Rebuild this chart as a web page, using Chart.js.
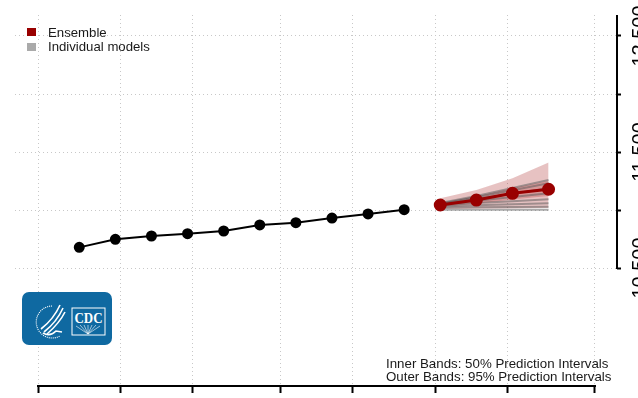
<!DOCTYPE html>
<html>
<head>
<meta charset="utf-8">
<script src="https://cdn.jsdelivr.net/npm/chart.js@4.4.1/dist/chart.umd.min.js"></script>
<style>
  body { margin: 0; background: #fff; }
  #wrap { position: relative; width: 638px; height: 398px; overflow: hidden; font-family: "Liberation Sans", Arial, sans-serif; }
  #chart { position: absolute; left: 0; top: 0; }
  .legend { position: absolute; left: 27px; top: 25px; font-size: 13.2px; color: #1a1a1a; }
  .legend .row { display: flex; align-items: center; height: 14.5px; white-space: nowrap; }
  .legend .sw { width: 9px; height: 8px; margin-right: 12px; }
  .notes { position: absolute; left: 386px; top: 357px; font-size: 13.3px; line-height: 13px; color: #1a1a1a; white-space: nowrap; }
  .logo { position: absolute; left: 22px; top: 292px; width: 90px; height: 53px; background: #0f69a1; border-radius: 7px; }
</style>
</head>
<body>
<div id="wrap">
  <canvas id="chart" width="638" height="398"></canvas>
  <div class="legend" id="legend"></div>
  <div class="notes" id="notes"></div>
  <div class="logo">
    <svg width="90" height="53" viewBox="0 0 90 53">
      <path d="M30 14 A16 16 0 1 0 38 44" fill="none" stroke="#fff" stroke-width="1.2" stroke-dasharray="1 1"/>
      <path d="M38 13 C34 22 28 30 19 37" fill="none" stroke="#fff" stroke-width="1.6"/>
      <path d="M41 16 C37 25 31 33 22 40" fill="none" stroke="#fff" stroke-width="1.6"/>
      <path d="M43 20 C39 28 33 35 25 42" fill="none" stroke="#fff" stroke-width="1.6"/>
      <path d="M21 41 C26 44 31 42 34 39 L40 40" fill="none" stroke="#fff" stroke-width="1.6"/>
      <rect x="50" y="16" width="33" height="27" fill="none" stroke="#fff" stroke-width="1"/>
      <text x="66.5" y="30.5" text-anchor="middle" font-family="Liberation Serif, serif" font-weight="bold" font-size="15" textLength="28" lengthAdjust="spacingAndGlyphs" fill="#fff">CDC</text>
      <path d="M66 42 L54 34 M66 42 L58 33 M66 42 L62 33 M66 42 L66 33 M66 42 L70 33 M66 42 L74 33 M66 42 L78 34" stroke="#fff" stroke-width="0.6"/>
    </svg>
  </div>
</div>
<script>
// x values are days counted from the first date tick
const xTickDays = [0, 16, 30, 47, 61, 77, 91, 108];
const yTickValues = [10500, 11000, 11500, 12000, 12500];
const yLabelValues = [10500, 11500, 12500];

const observedDays = [8, 15, 22, 29, 36, 43, 50, 57, 64, 71];
const observed = [10678, 10747, 10776, 10796, 10819, 10871, 10891, 10931, 10966, 11003];

const forecastDays = [78, 85, 92, 99];
const ensemble = [11043, 11086, 11144, 11179];
const lower95 = [11008, 11011, 11014, 11017];
const upper95 = [11101, 11172, 11273, 11409];
const lower50 = [11028, 11055, 11090, 11120];
const upper50 = [11062, 11118, 11190, 11250];

// individual model forecasts
const model1 = [11060, 11120, 11190, 11259];
const model2 = [11055, 11110, 11170, 11230];
const model3 = [11050, 11095, 11140, 11187];
const model4 = [11045, 11080, 11112, 11144];
const model5 = [11040, 11060, 11076, 11092];
const model6 = [11030, 11040, 11050, 11058];
const model7 = [11020, 11024, 11027, 11029];
const model8 = [11003, 11003, 11003, 11003];
const models = [model1, model2, model3, model4, model5, model6, model7, model8];

const legendLabels = ["Ensemble", "Individual models"];
const legendColors = ["#990000", "#aaaaaa"];
const noteLines = ["Inner Bands: 50% Prediction Intervals", "Outer Bands: 95% Prediction Intervals"];

const fontFamily = "'Liberation Sans', Arial, sans-serif";

function toPoints(days, values) {
  return days.map((d, i) => ({ x: d, y: values[i] }));
}

// legend + notes
const legendBox = document.getElementById("legend");
legendLabels.forEach((label, i) => {
  const row = document.createElement("div");
  row.className = "row";
  const sw = document.createElement("span");
  sw.className = "sw";
  sw.style.background = legendColors[i];
  row.appendChild(sw);
  row.appendChild(document.createTextNode(label));
  legendBox.appendChild(row);
});
document.getElementById("notes").innerHTML = noteLines.join("<br>");

const modelDatasets = models.map((m) => ({
  data: toPoints(forecastDays, m),
  borderColor: "rgba(85, 85, 85, 0.5)",
  borderWidth: 2,
  pointRadius: 0,
  order: 2,
}));

// draws the R-style axis lines (only between first and last tick)
const axisLines = {
  id: "axisLines",
  afterDraw(chart) {
    const { ctx, chartArea, scales } = chart;
    ctx.save();
    ctx.strokeStyle = "#000";
    ctx.lineWidth = 2;
    ctx.beginPath();
    ctx.moveTo(scales.x.getPixelForValue(xTickDays[0]) - 1, chartArea.bottom);
    ctx.lineTo(scales.x.getPixelForValue(xTickDays[xTickDays.length - 1]) + 1, chartArea.bottom);
    ctx.moveTo(chartArea.right, chartArea.top);
    ctx.lineTo(chartArea.right, scales.y.getPixelForValue(yTickValues[0]) + 1);
    ctx.stroke();
    ctx.restore();
  },
};

const ctx = document.getElementById("chart").getContext("2d");
const chart = new Chart(ctx, {
  type: "line",
  data: {
    datasets: [
      {
        label: "Observed",
        data: toPoints(observedDays, observed),
        borderColor: "#000",
        backgroundColor: "#000",
        borderWidth: 2,
        pointRadius: 4.5,
        pointBackgroundColor: "#000",
        pointBorderColor: "#000",
        order: 0,
      },
      {
        label: "Ensemble",
        data: toPoints(forecastDays, ensemble),
        borderColor: "#990000",
        borderWidth: 3,
        pointRadius: 5,
        pointBackgroundColor: "#990000",
        pointBorderColor: "#990000",
        order: 1,
      },
      ...modelDatasets,
      {
        label: "upper50",
        data: toPoints(forecastDays, upper50),
        borderWidth: 0,
        pointRadius: 0,
        fill: "+1",
        backgroundColor: "rgba(153, 0, 0, 0.22)",
        order: 3,
      },
      {
        label: "lower50",
        data: toPoints(forecastDays, lower50),
        borderWidth: 0,
        pointRadius: 0,
        order: 3,
      },
      {
        label: "upper95",
        data: toPoints(forecastDays, upper95),
        borderWidth: 0,
        pointRadius: 0,
        fill: "+1",
        backgroundColor: "rgba(153, 0, 0, 0.24)",
        order: 4,
      },
      {
        label: "lower95",
        data: toPoints(forecastDays, lower95),
        borderWidth: 0,
        pointRadius: 0,
        order: 4,
      },
    ],
  },
  options: {
    responsive: false,
    animation: false,
    layout: { padding: { left: 15, top: 15, right: 0, bottom: 0 } },
    plugins: { legend: { display: false }, tooltip: { enabled: false } },
    elements: { line: { tension: 0 } },
    scales: {
      x: {
        type: "linear",
        min: -4.46,
        max: 112.27,
        afterBuildTicks: (s) => { s.ticks = xTickDays.map((v) => ({ value: v })); },
        afterFit: (s) => { s.height = 12; },
        grid: { color: "#c8c8c8", lineWidth: 1, tickLength: 7, tickColor: "#000", tickWidth: 2, tickBorderDash: [] },
        border: { display: false, dash: [1, 3] },
        ticks: { display: false },
      },
      y: {
        type: "linear",
        position: "right",
        min: 9483,
        max: 12681,
        afterBuildTicks: (s) => { s.ticks = yTickValues.map((v) => ({ value: v })); },
        afterFit: (s) => { s.width = 21; },
        grid: { color: "#c8c8c8", lineWidth: 1, tickLength: 4, tickColor: "#000", tickWidth: 2, tickBorderDash: [] },
        border: { display: false, dash: [1, 3] },
        ticks: {
          autoSkip: false,
          minRotation: 90,
          maxRotation: 90,
          crossAlign: "center",
          padding: -11.5,
          color: "#000",
          font: { size: 20, family: fontFamily },
          callback: (v) => (yLabelValues.includes(v) ? v.toLocaleString("en-US") : ""),
        },
      },
    },
  },
  plugins: [axisLines],
});
</script>
</body>
</html>
